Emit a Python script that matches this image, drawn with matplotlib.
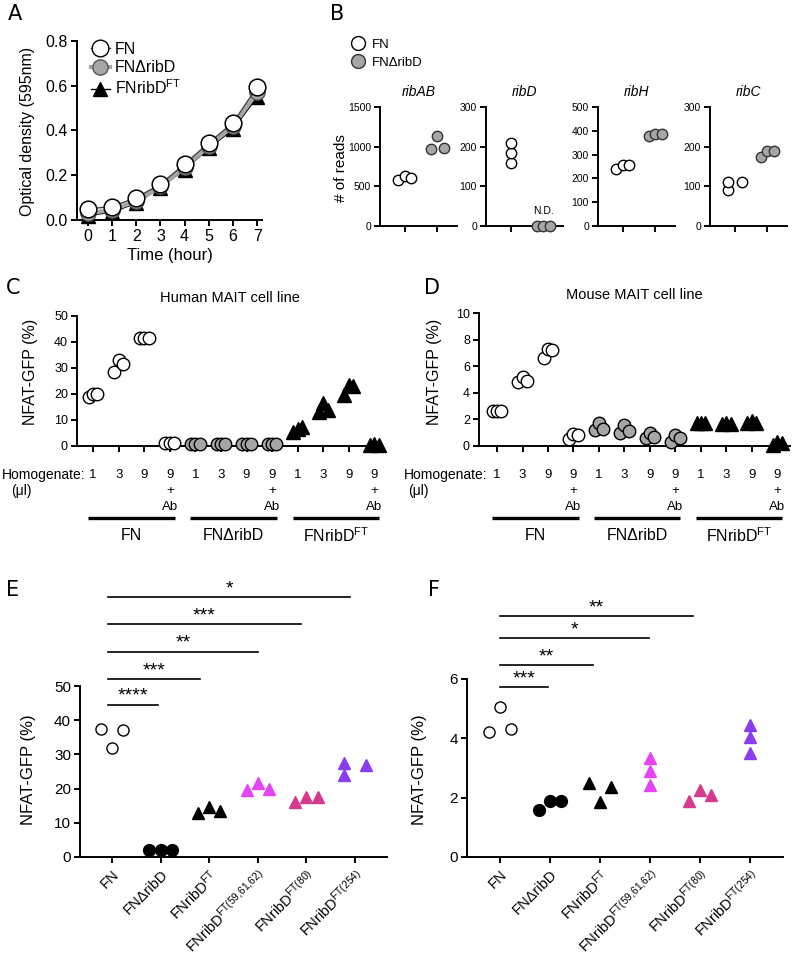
import matplotlib
matplotlib.use("Agg")
import matplotlib.pyplot as plt
from matplotlib.lines import Line2D
from matplotlib.transforms import blended_transform_factory

plt.rcParams['font.family'] = ['Liberation Sans', 'DejaVu Sans']
plt.rcParams['mathtext.default'] = 'regular'

# ---------------- data ----------------
hours = [0, 1, 2, 3, 4, 5, 6, 7]
od_fn = [0.05, 0.06, 0.10, 0.16, 0.25, 0.345, 0.435, 0.595]
od_drib = [0.03, 0.045, 0.085, 0.15, 0.235, 0.33, 0.42, 0.57]
od_ft = [0.02, 0.035, 0.075, 0.145, 0.225, 0.32, 0.405, 0.55]

genes = ['ribAB', 'ribD', 'ribH', 'ribC']
reads_fn = [[580, 630, 600], [160, 185, 210], [240, 255, 255], [90, 110, 110]]
reads_drib = [[970, 1140, 980], [0, 0, 0], [380, 385, 385], [175, 188, 188]]
reads_ymax = [1500, 300, 500, 300]
reads_step = [500, 100, 100, 100]

homog = ['1', '3', '9', '9']
hum_fn = [[19, 20, 20], [28.5, 33, 31.5], [41.5, 41.5, 41.5], [1, 1, 1]]
hum_drib = [[0.8, 0.9, 0.8], [0.7, 0.8, 0.8], [0.6, 0.8, 0.7], [0.6, 0.7, 0.8]]
hum_ft = [[5.5, 6.5, 7.5], [13, 16.5, 14], [19.5, 23.5, 23], [0.3, 0.6, 0.4]]

mou_fn = [[2.6, 2.6, 2.6], [4.8, 5.2, 4.9], [6.6, 7.3, 7.2], [0.55, 0.9, 0.8]]
mou_drib = [[1.2, 1.7, 1.3], [1.0, 1.55, 1.15], [0.6, 1.0, 0.7], [0.3, 0.8, 0.6]]
mou_ft = [[1.7, 1.7, 1.7], [1.65, 1.7, 1.65], [1.7, 1.85, 1.75], [0.1, 0.3, 0.2]]

strain_names = ['FN', 'FNΔribD', 'FNribD$^{FT}$']
mut_cats = ['FN', 'FNΔribD', 'FNribD$^{FT}$', 'FNribD$^{FT(59{,}61{,}62)}$',
            'FNribD$^{FT(80)}$', 'FNribD$^{FT(254)}$']
e_vals = [[37.5, 32, 37], [2, 2, 2], [13, 14.5, 13.5], [19.5, 21.5, 20],
          [16, 17.5, 17.5], [27.5, 24, 27]]
f_vals = [[4.2, 5.05, 4.3], [1.6, 1.9, 1.9], [2.5, 1.85, 2.35], [3.35, 2.9, 2.42],
          [1.9, 2.25, 2.1], [4.45, 4.05, 3.5]]
e_sig = ['****', '***', '**', '***', '*']
e_sig_y = [44.5, 52, 60, 68, 76]
e_sig_to = [0.95, 1.82, 3.0, 3.88, 4.9]
f_sig = ['***', '**', '*', '**']
f_sig_y = [5.72, 6.46, 7.37, 8.11]
f_sig_to = [0.96, 1.86, 2.98, 3.86]

# ---------------- styling ----------------
W, H = 796, 957
fig = plt.figure(figsize=(W / 100, H / 100), dpi=100)
fig.patch.set_facecolor('white')

def axpx(l, t, r, b):
    return fig.add_axes([l / W, 1 - b / H, (r - l) / W, (b - t) / H])

def style(ax, ls=9):
    for s in ['top', 'right']:
        ax.spines[s].set_visible(False)
    for s in ['left', 'bottom']:
        ax.spines[s].set_linewidth(1.4)
    ax.tick_params(direction='out', length=4.5, width=1.4, labelsize=ls, pad=2)
    ax.patch.set_alpha(0)

def ftext(x, y, s, **kw):
    fig.text(x / W, 1 - y / H, s, **kw)

GRAY = '#a6a6a6'
MUT_COLORS = ['black', 'black', 'black', '#e444f4', '#d63a8e', '#8a3cf0']

# panel letters
for lab, x, y in [('A', 8, 14), ('B', 330, 14), ('C', 6, 288), ('D', 424, 288),
                  ('E', 6, 590), ('F', 428, 590)]:
    ftext(x, y, lab, fontsize=15, family='DejaVu Sans', va='center', ha='left')

# ---------------- A ----------------
axA = axpx(77, 41, 262, 220)
style(axA, ls=11.5)
axA.plot(hours, od_drib, '-o', color=GRAY, lw=3, ms=11, mfc=GRAY, mec='#555555',
         mew=1, clip_on=False, zorder=3)
axA.plot(hours, od_ft, '-^', color='black', lw=1, ms=10, mfc='black', mec='black',
         clip_on=False, zorder=2)
axA.plot(hours, od_fn, '-o', color='#444444', lw=1, ms=12, mfc='white', mec='black',
         mew=1.1, clip_on=False, zorder=4)
axA.set_xlim(-0.45, 7.2)
axA.set_ylim(0, 0.8)
axA.set_yticks([0, 0.2, 0.4, 0.6, 0.8])
axA.set_yticklabels(['0.0', '0.2', '0.4', '0.6', '0.8'])
axA.set_xticks(hours)
axA.set_xlabel('Time (hour)', fontsize=12, labelpad=3)
ftext(28, 131, 'Optical density (595nm)', rotation=90, fontsize=11.5, va='center', ha='center')
hA = [Line2D([], [], color='#444444', lw=1, marker='o', ms=12, mfc='white', mec='black'),
      Line2D([], [], color=GRAY, lw=3, marker='o', ms=11, mfc=GRAY, mec='#555555'),
      Line2D([], [], color='black', lw=1, marker='^', ms=10, mfc='black')]
axA.legend(hA, strain_names, loc='upper left', bbox_to_anchor=(0.04, 1.03), frameon=False,
           fontsize=11.5, handlelength=1.2, handletextpad=0.3, labelspacing=0.2,
           borderaxespad=0)

# ---------------- B ----------------
b_lefts = [380, 486, 598, 710]
jit_b = [[[-0.2, 0, 0.2], [-0.2, 0, 0.2]],
         [[0, 0, 0], [-0.2, 0, 0.2]],
         [[-0.2, 0, 0.2], [-0.2, 0, 0.2]],
         [[-0.2, -0.2, 0.22], [-0.2, 0, 0.2]]]
for i, g in enumerate(genes):
    ax = axpx(b_lefts[i], 107, b_lefts[i] + 77, 226)
    style(ax, ls=7.5)
    ax.set_xlim(0.25, 2.6)
    ax.set_ylim(0, reads_ymax[i])
    ax.set_yticks(list(range(0, reads_ymax[i] + 1, reads_step[i])))
    ax.set_xticks([1, 2])
    ax.set_xticklabels([])
    ax.set_title(g, fontstyle='italic', fontsize=10, pad=8)
    ax.plot([1 + d for d in jit_b[i][0]], reads_fn[i], 'o', ms=7.5, mfc='white',
            mec='black', mew=1, clip_on=False, zorder=3)
    ax.plot([2 + d for d in jit_b[i][1]], reads_drib[i], 'o', ms=7.5, mfc=GRAY,
            mec='#333333', mew=1, clip_on=False, zorder=3)
    if g == 'ribD':
        ax.text(2, 25, 'N.D.', ha='center', va='bottom', fontsize=7.5)
ftext(341, 168, '# of reads', rotation=90, fontsize=11, va='center', ha='center')
hB = [Line2D([], [], ls='', marker='o', ms=10, mfc='white', mec='black'),
      Line2D([], [], ls='', marker='o', ms=10, mfc=GRAY, mec='#333333')]
fig.legend(hB, strain_names[:2], loc='upper left', bbox_to_anchor=(345 / W, 1 - 33 / H),
           frameon=False, fontsize=9.5, handletextpad=0.4, labelspacing=0.45,
           borderaxespad=0, handlelength=1.2)

# ---------------- C / D ----------------
jit3 = [-0.17, 0, 0.17]

def mait_panel(box, title, fn, drib, ft, ymax, ystep, xlim, ylabx):
    ax = axpx(*box)
    style(ax, ls=9)
    ax.set_xlim(*xlim)
    ax.set_ylim(0, ymax)
    ax.set_yticks(list(range(0, ymax + 1, ystep)))
    ax.set_xticks(list(range(1, 13)))
    ax.set_xticklabels([])
    ax.set_title(title, fontsize=10.5, pad=10)
    for gi, (grp, mk, fc) in enumerate([(fn, 'o', 'white'), (drib, 'o', GRAY), (ft, '^', 'black')]):
        for j, vals in enumerate(grp):
            x0 = gi * 4 + j + 1
            ax.plot([x0 + d for d in jit3], vals, mk, ms=9 if mk == 'o' else 9.5,
                    mfc=fc, mec='black', mew=1, clip_on=False, zorder=3)
    tr = blended_transform_factory(ax.transData, fig.transFigure)
    for gi in range(3):
        for j in range(4):
            x0 = gi * 4 + j + 1
            ax.text(x0, 1 - 475 / H, homog[j], transform=tr, ha='center', va='center', fontsize=9.5)
            if j == 3:
                ax.text(x0, 1 - 491 / H, '+', transform=tr, ha='center', va='center', fontsize=9.5)
                ax.text(x0, 1 - 507 / H, 'Ab', transform=tr, ha='center', va='center', fontsize=9.5)
        a, b = gi * 4 + 1 - 0.2, gi * 4 + 4 + 0.2
        ax.plot([a, b], [1 - 518 / H] * 2, transform=tr, color='black', lw=2.4,
                solid_capstyle='butt', clip_on=False)
        ax.text((a + b) / 2, 1 - 536 / H, strain_names[gi], transform=tr, ha='center',
                va='center', fontsize=11.5)
    ftext(ylabx, 372, 'NFAT-GFP (%)', rotation=90, fontsize=11.5, va='center', ha='center')
    return ax

axC = mait_panel((77, 316, 382, 446), 'Human MAIT cell line', hum_fn, hum_drib, hum_ft,
                 50, 10, (0.37, 12.3), 31)
ftext(2, 475, 'Homogenate:', fontsize=10, va='center', ha='left')
ftext(11, 491, '(μl)', fontsize=10, va='center', ha='left')
axD = mait_panel((479, 313, 790, 446), 'Mouse MAIT cell line', mou_fn, mou_drib, mou_ft,
                 10, 2, (0.29, 12.5), 435)
ftext(404, 475, 'Homogenate:', fontsize=10, va='center', ha='left')
ftext(408, 491, '(μl)', fontsize=10, va='center', ha='left')

# ---------------- E / F ----------------
def mut_panel(box, vals, ymax, ystep, jitters, sig, sig_y, sig_to, sig_from, ylabx):
    ax = axpx(*box)
    style(ax, ls=11)
    ax.set_xlim(-0.66, 5.66)
    ax.set_ylim(0, ymax)
    ax.set_yticks(list(range(0, ymax + 1, ystep)))
    ax.set_xticks(range(len(mut_cats)))
    ax.set_xticklabels(mut_cats, rotation=45, ha='right', rotation_mode='anchor', fontsize=10.5)
    ax.tick_params(axis='x', pad=3)
    for i, v in enumerate(vals):
        xs = [i + d for d in jitters[i]]
        if i == 0:
            ax.plot(xs, v, 'o', ms=8, mfc='white', mec='black', mew=1, clip_on=False, zorder=3)
        elif i == 1:
            ax.plot(xs, v, 'o', ms=8.5, mfc='black', mec='black', clip_on=False, zorder=3)
        else:
            ax.plot(xs, v, '^', ms=8.5, mfc=MUT_COLORS[i], mec=MUT_COLORS[i], clip_on=False, zorder=3)
    for s, y, x1 in zip(sig, sig_y, sig_to):
        ax.plot([sig_from, x1], [y, y], color='black', lw=1.2, clip_on=False)
        ax.text((sig_from + x1) / 2, y, s, ha='center', va='bottom', fontsize=14,
                clip_on=False)
    ftext(ylabx, 770, 'NFAT-GFP (%)', rotation=90, fontsize=12, va='center', ha='center')
    return ax

jit_e = [[-0.23, 0, 0.23]] * 5 + [[-0.23, -0.23, 0.23]]
jit_f = [[-0.22, 0, 0.22]] * 3 + [[0, 0, 0], [-0.22, 0, 0.22], [0, 0, 0]]
axE = mut_panel((80, 686, 387, 857), e_vals, 50, 10, jit_e, e_sig, e_sig_y, e_sig_to, -0.08, 29)
axF = mut_panel((467, 679, 783, 857), f_vals, 6, 2, jit_f, f_sig, f_sig_y, f_sig_to, 0.0, 420)

fig.savefig('out.png', dpi=100, facecolor='white')
